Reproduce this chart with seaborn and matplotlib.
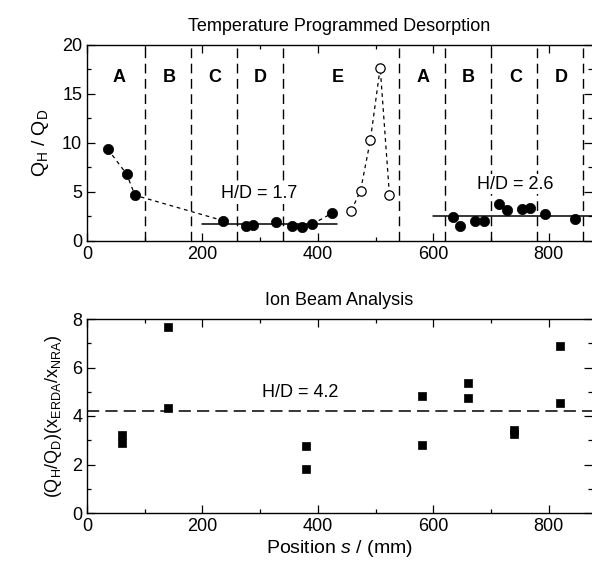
import matplotlib
matplotlib.use("Agg")
import matplotlib.pyplot as plt
import seaborn as sns
import pandas as pd
from matplotlib.ticker import MultipleLocator

# ---------------- data ----------------
# TPD filled points
tpd_x_filled = [36, 69, 83, 235, 275, 288, 327, 356, 373, 390, 424,
                634, 647, 673, 688, 714, 728, 753, 767, 793, 846]
tpd_y_filled = [9.37, 6.8, 4.67, 2.09, 1.58, 1.65, 1.89, 1.58, 1.41, 1.72, 2.81,
                2.4, 1.54, 1.99, 1.99, 3.77, 3.19, 3.25, 3.4, 2.72, 2.2]
# TPD open points (region E)
tpd_x_open = [458, 474, 491, 508, 524]
tpd_y_open = [3.09, 5.15, 10.3, 17.7, 4.73]
# dashed guide curves
guide1_x = [36, 69, 83, 235]
guide1_y = [9.37, 6.8, 4.67, 2.09]
guide2_x = [390, 424]
guide2_y = [1.72, 2.81]
guide3_x = [458, 474, 491, 508, 524]
guide3_y = [3.09, 5.15, 10.3, 17.7, 4.73]
# H/D fit lines
fit1_x = [200, 433]
fit1_y = [1.7, 1.7]
fit2_x = [600, 875]
fit2_y = [2.6, 2.6]
# section boundaries and labels
boundaries = [100, 180, 260, 340, 540, 620, 700, 780, 860]
section_labels = ["A", "B", "C", "D", "E", "A", "B", "C", "D"]
section_x = [55, 142, 222, 301, 435, 583, 661, 743, 822]

# Ion beam analysis
iba_x = [60, 60, 140, 140, 380, 380, 580, 580, 660, 660, 740, 740, 820, 820]
iba_y = [3.23, 2.9, 7.68, 4.32, 2.78, 1.83, 4.82, 2.82, 5.37, 4.73, 3.43, 3.27, 6.88, 4.55]
iba_hd = 4.2

# ---------------- style ----------------
sns.set_theme(style="ticks")
plt.rcParams['font.family'] = ['Liberation Sans', 'DejaVu Sans']
plt.rcParams['mathtext.fontset'] = 'custom'
plt.rcParams['mathtext.rm'] = 'Liberation Sans'
plt.rcParams['mathtext.it'] = 'Liberation Sans:italic'
plt.rcParams['axes.edgecolor'] = 'black'
plt.rcParams['axes.linewidth'] = 1.0
plt.rcParams['text.color'] = 'black'
plt.rcParams['axes.labelcolor'] = 'black'
plt.rcParams['axes.titlecolor'] = 'black'
plt.rcParams['xtick.color'] = 'black'
plt.rcParams['ytick.color'] = 'black'
plt.rcParams['xtick.labelcolor'] = 'black'
plt.rcParams['ytick.labelcolor'] = 'black'

fig = plt.figure(figsize=(5.92, 5.66), dpi=100)
ax1 = fig.add_axes([87/592, 1-241/566, (592-87)/592, 196/566])
ax2 = fig.add_axes([87/592, 1-513/566, (592-87)/592, 194/566])

XMAX = 875
box = dict(facecolor='white', edgecolor='none', pad=1.0)

def style_axis(ax):
    ax.set_xlim(0, XMAX)
    ax.xaxis.set_major_locator(MultipleLocator(200))
    ax.xaxis.set_minor_locator(MultipleLocator(100))
    ax.tick_params(which='both', direction='in', top=True, right=True,
                   colors='black', labelsize=13, width=0.9)
    ax.tick_params(which='major', length=6)
    ax.tick_params(which='minor', length=3)
    ax.spines['right'].set_visible(False)
    for s in ['left', 'bottom', 'top']:
        ax.spines[s].set_color('black')
    ax.set_facecolor('white')

# ---- top panel ----
style_axis(ax1)
ax1.set_ylim(0, 20)
ax1.yaxis.set_major_locator(MultipleLocator(5))
ax1.yaxis.set_minor_locator(MultipleLocator(2.5))

for b in boundaries:
    ax1.axvline(b, color='black', lw=1.0, ls=(0, (7, 4)), zorder=1)
for lab, sx in zip(section_labels, section_x):
    ax1.text(sx, 16.7, lab, ha='center', va='center', fontsize=13,
             fontweight='bold', color='black', bbox=box, zorder=4)

g1 = pd.DataFrame({'x': guide1_x, 'y': guide1_y})
g2 = pd.DataFrame({'x': guide2_x, 'y': guide2_y})
g3 = pd.DataFrame({'x': guide3_x, 'y': guide3_y})
for g in (g1, g2, g3):
    sns.lineplot(data=g, x='x', y='y', ax=ax1, color='black', lw=0.9,
                 ls=(0, (3, 3)), sort=False, estimator=None, zorder=2)

f1 = pd.DataFrame({'x': fit1_x, 'y': fit1_y})
f2 = pd.DataFrame({'x': fit2_x, 'y': fit2_y})
for f in (f1, f2):
    sns.lineplot(data=f, x='x', y='y', ax=ax1, color='black', lw=1.1,
                 sort=False, estimator=None, zorder=2)

df_filled = pd.DataFrame({'x': tpd_x_filled, 'y': tpd_y_filled})
df_open = pd.DataFrame({'x': tpd_x_open, 'y': tpd_y_open})
sns.scatterplot(data=df_filled, x='x', y='y', ax=ax1, color='black',
                s=55, edgecolor='black', linewidth=0.5, zorder=3)
sns.scatterplot(data=df_open, x='x', y='y', ax=ax1, facecolor='white',
                s=45, edgecolor='black', linewidth=0.9, zorder=3)

ax1.text(299, 4.8, 'H/D = 1.7', ha='center', va='center', fontsize=13,
         bbox=box, zorder=4)
ax1.text(742, 5.8, 'H/D = 2.6', ha='center', va='center', fontsize=13,
         bbox=box, zorder=4)
ax1.set_xlabel('')
ax1.set_ylabel(r'$\mathregular{Q_H\ /\ Q_D}$', fontsize=14, labelpad=8)
ax1.set_title('Temperature Programmed Desorption', fontsize=13, pad=10)

# ---- bottom panel ----
style_axis(ax2)
ax2.set_ylim(0, 8)
ax2.yaxis.set_major_locator(MultipleLocator(2))
ax2.yaxis.set_minor_locator(MultipleLocator(1))
ax2.axhline(iba_hd, color='black', lw=1.1, ls=(0, (8, 4)), zorder=1)
df_iba = pd.DataFrame({'x': iba_x, 'y': iba_y})
sns.scatterplot(data=df_iba, x='x', y='y', ax=ax2, color='black', marker='s',
                s=40, edgecolor='black', linewidth=0.5, zorder=3)
ax2.text(370, 4.96, 'H/D = 4.2', ha='center', va='center', fontsize=13)
ax2.set_xlabel(r'Position $\mathit{s}$ / (mm)', fontsize=14, labelpad=2)
ax2.set_ylabel(r'$\mathregular{(Q_H/Q_D)(x_{ERDA}/x_{NRA})}$', fontsize=13, labelpad=6)
ax2.set_title('Ion Beam Analysis', fontsize=13, pad=10)

fig.savefig('out.png', dpi=100, facecolor='white')
